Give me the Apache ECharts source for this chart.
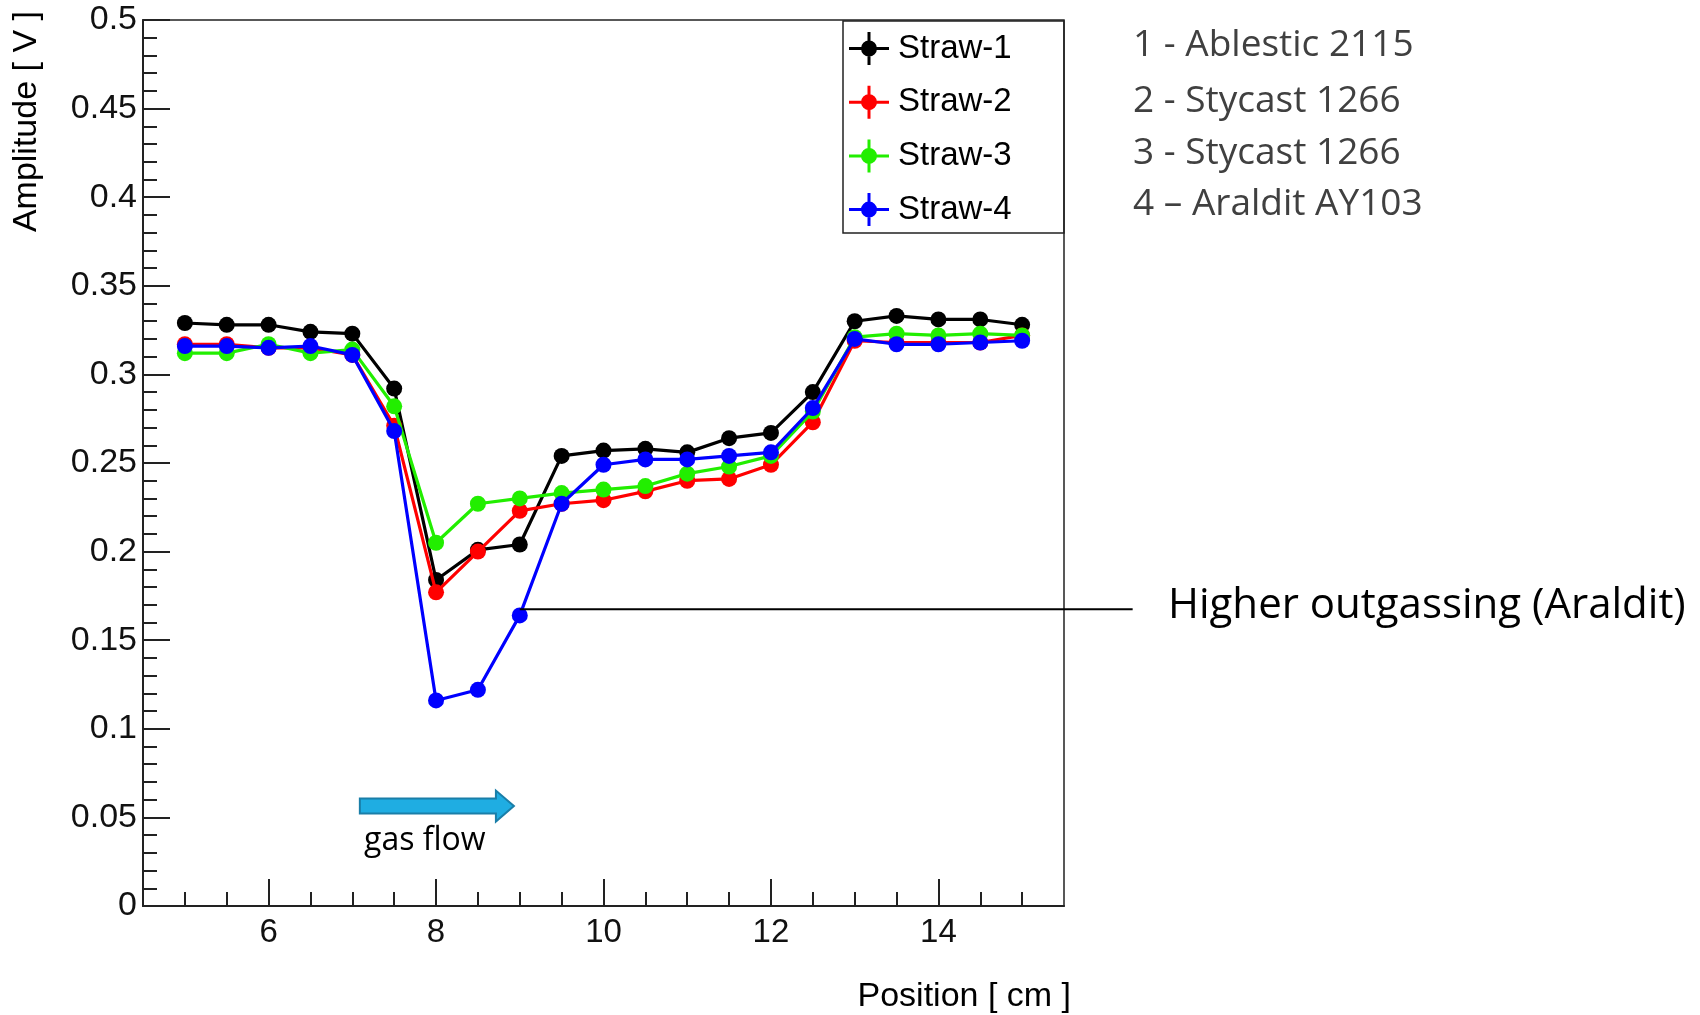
<!DOCTYPE html>
<html>
<head>
<meta charset="utf-8">
<script src="https://cdn.jsdelivr.net/npm/echarts@6/dist/echarts.min.js"></script>
<style>
html,body{margin:0;padding:0;background:#fff;}
#chart{width:1700px;height:1015px;}
</style>
</head>
<body>
<div id="chart"></div>
<script>
const positions = [5,5.5,6,6.5,7,7.5,8,8.5,9,9.5,10,10.5,11,11.5,12,12.5,13,13.5,14,14.5,15];
const straw1 = [0.329,0.328,0.328,0.324,0.323,0.292,0.184,0.201,0.204,0.254,0.257,0.258,0.256,0.264,0.267,0.290,0.330,0.333,0.331,0.331,0.328];
const straw2 = [0.317,0.317,0.315,0.315,0.311,0.271,0.177,0.200,0.223,0.227,0.229,0.234,0.240,0.241,0.249,0.273,0.319,0.318,0.318,0.318,0.322];
const straw3 = [0.312,0.312,0.317,0.312,0.314,0.282,0.205,0.227,0.230,0.233,0.235,0.237,0.244,0.248,0.254,0.279,0.321,0.323,0.322,0.323,0.322];
const straw4 = [0.316,0.316,0.315,0.316,0.311,0.268,0.116,0.122,0.164,0.227,0.249,0.252,0.252,0.254,0.256,0.281,0.320,0.317,0.317,0.318,0.319];
const seriesNames = ['Straw-1','Straw-2','Straw-3','Straw-4'];
const seriesColors = ['#000000','#ff0000','#22ee00','#0000ff'];
const majorXTicks = [6,8,10,12,14];
const minorXTicks = [5,5.5,6.5,7,7.5,8.5,9,9.5,10.5,11,11.5,12.5,13,13.5,14.5,15];
const materialNotes = ['1 - Ablestic 2115','2 - Stycast 1266','3 - Stycast 1266','4 \u2013 Araldit AY103'];
const calloutText = 'Higher outgassing (Araldit)';
const flowText = 'gas flow';
const arrowFrom = [7.09, 0.0564];
const arrowTo = [8.93, 0.0564];
const calloutFrom = [9.0, 0.1675];
const calloutTo = [16.32, 0.1675];

const allSeries = [straw1, straw2, straw3, straw4];
const chart = echarts.init(document.getElementById('chart'), null, {renderer:'canvas'});
const G = {left:143, right:1700-1064, top:20, bottom:1015-906};
const iconPath = 'path://M0,15 L40,15 L40,18 L0,18 Z M18.5,0 L21.5,0 L21.5,33 L18.5,33 Z M20,8.5 A8,8 0 1,1 20,24.5 A8,8 0 1,1 20,8.5 Z';

const option = {
  animation:false,
  backgroundColor:'#fff',
  grid:{left:G.left, right:G.right, top:G.top, bottom:G.bottom, show:true, borderColor:'#222', borderWidth:1.5, containLabel:false},
  legend:{
    orient:'vertical', left:849, top:32, itemWidth:40, itemHeight:33, itemGap:20.7, padding:0,
    icon:iconPath, data:seriesNames,
    textStyle:{fontFamily:'Liberation Sans', fontSize:33, color:'#000', lineHeight:33, padding:[0,0,0,4]}
  },
  xAxis:[{
    type:'value', min:4.5, max:15.5, position:'bottom',
    axisLine:{show:true, lineStyle:{color:'#222', width:2}},
    axisTick:{show:true, inside:true, length:27, customValues:majorXTicks, lineStyle:{color:'#222', width:2}},
    axisLabel:{show:true, customValues:majorXTicks, margin:10, fontFamily:'Liberation Sans', fontSize:33, color:'#111'},
    splitLine:{show:false}
  },{
    type:'value', min:4.5, max:15.5, position:'bottom',
    axisLine:{show:false},
    axisTick:{show:true, inside:true, length:14, customValues:minorXTicks, lineStyle:{color:'#222', width:2}},
    axisLabel:{show:false},
    splitLine:{show:false}
  }],
  yAxis:{
    type:'value', min:0, max:0.5, interval:0.05, position:'left',
    axisLine:{show:true, lineStyle:{color:'#222', width:2}},
    axisTick:{show:true, inside:true, length:27, lineStyle:{color:'#222', width:2}},
    minorTick:{show:true, splitNumber:5, length:14, lineStyle:{color:'#222', width:2}},
    axisLabel:{margin:6, fontFamily:'Liberation Sans', fontSize:34, color:'#111'},
    splitLine:{show:false}, minorSplitLine:{show:false}
  },
  series: seriesNames.map((n,i)=>({
    name:n, type:'line', xAxisIndex:0,
    data: positions.map((x,j)=>[x, allSeries[i][j]]),
    symbol:'circle', symbolSize:16,
    lineStyle:{color:seriesColors[i], width:3.2},
    itemStyle:{color:seriesColors[i]},
    z: 2+i
  }))
};
chart.setOption(option);

const a0 = chart.convertToPixel({xAxisIndex:0, yAxisIndex:0}, arrowFrom);
const a1 = chart.convertToPixel({xAxisIndex:0, yAxisIndex:0}, arrowTo);
const c0 = chart.convertToPixel({xAxisIndex:0, yAxisIndex:0}, calloutFrom);
const c1 = chart.convertToPixel({xAxisIndex:0, yAxisIndex:0}, calloutTo);
const ay = a0[1], sh = 7.5, hh = 15.5, hl = 18;
const xb = a1[0]-hl;
const labelFont = "'Open Sans', 'Noto Sans', sans-serif";
const noteYs = [45, 101, 153, 204];

chart.setOption({
  graphic: [
    {type:'rect', shape:{x:843, y:21, width:221, height:212}, style:{fill:'none', stroke:'#222', lineWidth:1.5}, z:10},
    {type:'polygon', shape:{points:[[a0[0],ay-sh],[xb,ay-sh],[xb,ay-hh],[a1[0],ay],[xb,ay+hh],[xb,ay+sh],[a0[0],ay+sh]]},
      style:{fill:'#1fade2', stroke:'#1a7ea8', lineWidth:2}, z:10},
    {type:'text', x:364, y:841, style:{text:flowText, font:"32px " + labelFont, fill:'#000', align:'left', verticalAlign:'middle'}, z:10},
    {type:'line', shape:{x1:c0[0], y1:c0[1], x2:c1[0], y2:c1[1]}, style:{stroke:'#000', lineWidth:2}, z:10},
    {type:'text', x:1168, y:606, style:{text:calloutText, font:"42px " + labelFont, fill:'#000', align:'left', verticalAlign:'middle'}, z:10},
    ...materialNotes.map((t,i)=>({type:'text', x:1133, y:noteYs[i], style:{text:t, font:"37px " + labelFont, fill:'#404040', align:'left', verticalAlign:'middle'}, z:10})),
    {type:'text', x:27, y:11, rotation:Math.PI/2, style:{text:'Amplitude [ V ]', font:"34px 'Liberation Sans', Arial, sans-serif", fill:'#000', align:'right', verticalAlign:'middle'}, z:10},
    {type:'text', x:1071, y:997, style:{text:'Position [ cm ]', font:"34px 'Liberation Sans', Arial, sans-serif", fill:'#000', align:'right', verticalAlign:'middle'}, z:10}
  ]
});
</script>
</body>
</html>
